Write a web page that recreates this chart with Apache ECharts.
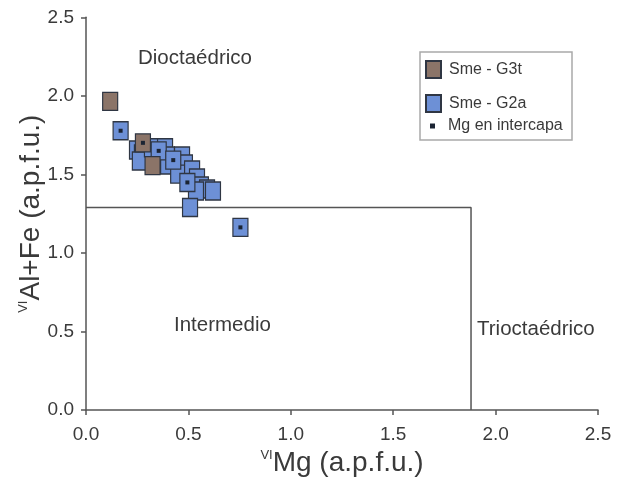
<!DOCTYPE html>
<html>
<head>
<meta charset="utf-8">
<script src="https://cdn.jsdelivr.net/npm/echarts@6/dist/echarts.min.js"></script>
<style>
  html, body { margin: 0; padding: 0; background: #fff; }
  #chart { width: 621px; height: 482px; }
</style>
</head>
<body>
<div id="chart"></div>
<script>
// Octahedral composition of smectites: VI-Mg vs VI-(Al+Fe), atoms per formula unit
const xTicks = [0.0, 0.5, 1.0, 1.5, 2.0, 2.5];
const yTicks = [0.0, 0.5, 1.0, 1.5, 2.0, 2.5];

// Sme - G3t
const smeG3t = [[0.118, 1.965], [0.278, 1.701], [0.325, 1.556]];

// Sme - G2a
const smeG2a = [
  [0.249, 1.655], [0.273, 1.630], [0.293, 1.604], [0.263, 1.585],
  [0.322, 1.670], [0.386, 1.670], [0.395, 1.617], [0.401, 1.560],
  [0.469, 1.617], [0.483, 1.566], [0.450, 1.502], [0.518, 1.528],
  [0.542, 1.477], [0.561, 1.426], [0.591, 1.407], [0.620, 1.394],
  [0.537, 1.394], [0.508, 1.289],
  [0.169, 1.778], [0.355, 1.650], [0.426, 1.591], [0.495, 1.449], [0.754, 1.163]
];

// Samples with interlayer Mg
const mgIntercapa = [[0.169, 1.778], [0.278, 1.701], [0.355, 1.650], [0.426, 1.591], [0.495, 1.449], [0.754, 1.163]];

// Field boundary between dioctahedral, intermediate and trioctahedral smectites
const fieldBoundary = [[0, 1.29], [1.88, 1.29], [1.88, 0]];

const FONT = '"Liberation Sans", Arial, sans-serif';
const AXIS_COLOR = '#555';
const TEXT_COLOR = '#3a3a3a';
const EDGE = '#2f3643';

const chart = echarts.init(document.getElementById('chart'));

const axisCommon = (ticks, margin) => ({
  type: 'value',
  min: ticks[0],
  max: ticks[ticks.length - 1],
  interval: 0.5,
  nameLocation: 'middle',
  splitLine: { show: false },
  axisLine: { show: true, lineStyle: { color: AXIS_COLOR, width: 1.5 } },
  axisTick: { show: true, inside: false, length: 5, lineStyle: { color: AXIS_COLOR, width: 1.5 } },
  axisLabel: {
    fontFamily: FONT, fontSize: 19, color: TEXT_COLOR, margin: margin,
    formatter: (v) => v.toFixed(1)
  }
});

const nameRich = {
  s: { fontFamily: FONT, fontSize: 13, color: TEXT_COLOR, verticalAlign: 'top' },
  m: { fontFamily: FONT, fontSize: 28, color: TEXT_COLOR, verticalAlign: 'bottom' }
};

chart.setOption({
  animation: false,
  backgroundColor: '#fff',
  grid: { left: 86, right: 23, top: 17.3, bottom: 69.7, containLabel: false },
  xAxis: Object.assign(axisCommon(xTicks, 15), {
    name: '{s|VI}{m|Mg (a.p.f.u.)}',
    nameGap: 28,
    nameTextStyle: { rich: nameRich }
  }),
  yAxis: Object.assign(axisCommon(yTicks, 12), {
    name: '{s|VI}{m|Al+Fe (a.p.f.u.)}',
    nameGap: 41,
    nameRotate: 90,
    nameMoveOverlap: false,
    nameTextStyle: { rich: nameRich }
  }),
  legend: [
    {
      orient: 'vertical', left: 420, top: 55,
      itemWidth: 15, itemHeight: 17, itemGap: 15,
      selectedMode: false,
      textStyle: { fontFamily: FONT, fontSize: 16, color: TEXT_COLOR, padding: [0, 0, 0, 3] },
      data: ['Sme - G3t', 'Sme - G2a']
    },
    {
      orient: 'vertical', left: 425, top: 113,
      itemWidth: 5, itemHeight: 5,
      selectedMode: false,
      textStyle: { fontFamily: FONT, fontSize: 16, color: TEXT_COLOR, padding: [0, 0, 0, 8] },
      data: ['Mg en intercapa']
    }
  ],
  graphic: [
    {
      type: 'rect', z: 0,
      shape: { x: 420, y: 52, width: 152, height: 88 },
      style: { fill: '#fff', stroke: '#a9a9a9', lineWidth: 1.5 }
    },
    {
      type: 'text', left: 138, top: 48,
      style: { text: 'Dioctaédrico', fontFamily: FONT, fontSize: 20.5, fill: TEXT_COLOR }
    },
    {
      type: 'text', left: 174, top: 315,
      style: { text: 'Intermedio', fontFamily: FONT, fontSize: 20.5, fill: TEXT_COLOR }
    },
    {
      type: 'text', left: 477, top: 319,
      style: { text: 'Trioctaédrico', fontFamily: FONT, fontSize: 20.5, fill: TEXT_COLOR }
    }
  ],
  series: [
    {
      name: 'límite', type: 'line', data: fieldBoundary,
      symbol: 'none', silent: true, z: 1,
      lineStyle: { color: AXIS_COLOR, width: 1.5 }
    },
    {
      name: 'Sme - G2a', type: 'scatter', data: smeG2a, z: 2,
      symbol: 'rect', symbolSize: [15, 18],
      itemStyle: { color: '#6d90d6', borderColor: EDGE, borderWidth: 1.3, opacity: 1 }
    },
    {
      name: 'Sme - G3t', type: 'scatter', data: smeG3t, z: 3,
      symbol: 'rect', symbolSize: [15, 18],
      itemStyle: { color: '#8b7468', borderColor: EDGE, borderWidth: 1.3, opacity: 1 }
    },
    {
      name: 'Mg en intercapa', type: 'scatter', data: mgIntercapa, z: 4,
      symbol: 'rect', symbolSize: 4,
      itemStyle: { color: '#1b2433', opacity: 1 }
    }
  ]
});
</script>
</body>
</html>
